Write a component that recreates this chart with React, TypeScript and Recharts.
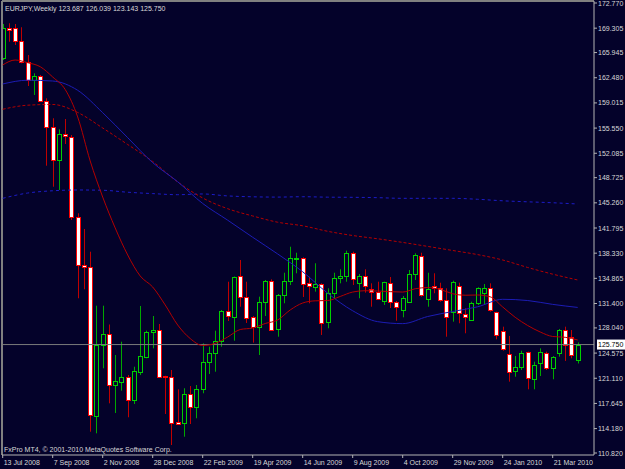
import React from 'react';
import { ComposedChart, Bar, Line, XAxis, YAxis, ReferenceLine } from 'recharts';

const dateLabels = ['13 Jul 2008', '7 Sep 2008', '2 Nov 2008', '28 Dec 2008', '22 Feb 2009', '19 Apr 2009', '14 Jun 2009', '9 Aug 2009', '4 Oct 2009', '29 Nov 2009', '24 Jan 2010', '21 Mar 2010'];
const dateTickIdx = [0, 8, 16, 24, 32, 40, 48, 56, 64, 72, 80, 88];

const priceTicks = [172.77, 169.305, 165.945, 162.48, 159.015, 155.55, 152.085, 148.725, 145.26, 141.795, 138.33, 134.865, 131.4, 128.04, 124.575, 121.11, 117.645, 114.18, 110.82];

const opens = [165.20, 169.33, 169.29, 167.58, 164.69, 162.17, 162.72, 159.32, 155.74, 151.16, 154.69, 154.36, 143.35, 136.66, 136.38, 115.95, 125.69, 127.20, 120.18, 120.64, 121.32, 118.12, 122.01, 124.08, 127.52, 127.75, 121.42, 121.24, 115.05, 114.91, 118.94, 117.19, 119.59, 123.39, 124.63, 126.24, 130.37, 129.58, 135.19, 132.25, 129.58, 128.12, 131.57, 134.50, 127.85, 132.57, 134.50, 137.49, 137.62, 134.18, 133.71, 134.09, 128.81, 132.81, 134.87, 135.19, 138.39, 134.26, 135.19, 133.36, 132.98, 131.79, 134.18, 131.65, 130.51, 131.65, 135.46, 137.98, 131.98, 133.85, 133.49, 131.88, 130.19, 133.81, 129.96, 129.13, 131.43, 132.89, 133.49, 130.19, 127.62, 124.45, 122.15, 122.62, 124.68, 120.97, 123.17, 124.63, 122.48, 124.55, 127.75, 126.83, 123.687];
const highs = [169.88, 169.98, 169.88, 169.43, 165.61, 163.09, 162.86, 159.65, 156.90, 155.38, 156.80, 154.60, 143.82, 141.66, 138.53, 131.10, 131.10, 128.51, 124.31, 126.14, 121.56, 122.70, 131.06, 127.66, 129.68, 128.58, 121.45, 122.25, 119.59, 119.73, 120.04, 120.18, 125.92, 125.45, 127.66, 130.51, 134.40, 135.12, 137.39, 134.40, 129.68, 132.34, 134.64, 134.73, 132.71, 135.64, 139.22, 138.39, 137.76, 135.09, 136.94, 134.18, 133.49, 135.64, 136.11, 138.67, 138.53, 135.46, 136.11, 134.18, 134.40, 134.40, 135.05, 131.75, 132.43, 136.01, 138.31, 138.39, 135.64, 135.56, 134.26, 133.49, 134.54, 134.26, 130.74, 131.65, 133.63, 134.09, 134.18, 130.27, 128.21, 126.93, 124.17, 124.90, 124.77, 123.39, 125.23, 124.77, 124.17, 127.89, 128.21, 127.75, 126.039];
const lows = [164.92, 167.44, 166.99, 164.47, 161.34, 160.11, 159.18, 150.37, 147.48, 147.03, 153.36, 142.90, 132.12, 133.36, 113.75, 113.53, 122.48, 117.66, 116.33, 119.40, 115.74, 117.57, 121.56, 123.86, 125.23, 121.28, 116.19, 111.92, 114.68, 113.06, 114.81, 115.60, 119.04, 121.70, 122.01, 125.45, 128.99, 126.28, 130.96, 128.72, 126.01, 124.31, 129.68, 127.68, 126.83, 131.43, 133.95, 135.56, 132.30, 131.43, 133.03, 127.07, 127.99, 132.12, 134.18, 134.40, 133.95, 132.12, 132.89, 130.96, 131.88, 131.20, 130.78, 129.03, 129.50, 131.61, 134.64, 132.34, 130.96, 132.81, 131.65, 126.83, 128.90, 128.68, 127.30, 129.03, 131.20, 131.20, 130.27, 126.47, 124.90, 120.64, 121.32, 122.25, 119.59, 119.59, 121.42, 122.25, 120.97, 124.08, 123.49, 123.86, 123.143];
const closes = [169.33, 169.12, 167.58, 164.69, 162.17, 162.72, 159.32, 155.74, 151.16, 154.69, 154.42, 143.35, 136.70, 136.38, 116.05, 125.69, 127.20, 120.18, 120.73, 121.32, 118.12, 122.15, 124.17, 127.52, 127.75, 121.32, 121.24, 114.91, 114.85, 118.94, 117.19, 119.59, 123.39, 124.63, 126.28, 130.37, 129.68, 135.09, 132.25, 129.45, 128.12, 131.65, 134.54, 127.75, 132.57, 134.54, 137.62, 137.62, 134.09, 133.81, 134.09, 128.76, 132.81, 134.87, 135.19, 138.39, 134.73, 135.19, 133.81, 132.98, 132.06, 134.32, 131.65, 130.88, 132.12, 135.42, 138.08, 132.57, 133.36, 133.49, 131.88, 129.58, 134.40, 130.14, 129.58, 131.51, 133.49, 133.49, 130.51, 127.07, 125.10, 122.01, 122.62, 124.55, 121.19, 122.94, 124.68, 122.48, 123.99, 127.75, 125.69, 124.31, 125.750];

// moving averages (red solid every 2 bars, the others every 4 bars)
const maRedSolid = [164.24, 164.92, 164.55, 164.00, 162.58, 160.86, 157.08, 151.02, 146.06, 141.80, 138.08, 135.19, 133.67, 131.20, 128.44, 126.58, 125.62, 125.92, 126.79, 127.82, 128.03, 128.65, 129.13, 130.51, 131.47, 131.77, 131.81, 132.37, 132.98, 133.16, 133.12, 133.03, 132.98, 133.43, 133.60, 133.34, 132.74, 132.54, 132.57, 132.32, 130.92, 129.50, 128.37, 127.48, 126.86, 126.75, 126.38];
const maBlueSolid = [161.62, 162.14, 162.03, 160.75, 157.67, 154.23, 150.79, 148.16, 145.17, 142.87, 140.52, 138.22, 135.77, 132.82, 130.40, 128.90, 128.63, 129.61, 130.30, 130.95, 131.98, 131.81, 131.28, 130.86];
const maRedDash = [158.14, 158.70, 158.80, 157.70, 155.56, 153.29, 150.95, 148.13, 145.93, 144.45, 143.45, 142.59, 142.10, 141.34, 140.76, 140.31, 139.81, 139.26, 138.70, 138.13, 137.39, 136.36, 135.44, 134.64];
const maBlueDash = [145.88, 146.61, 146.92, 147.03, 146.99, 146.72, 146.53, 146.38, 146.48, 146.21, 146.09, 146.05, 146.10, 146.04, 146.02, 145.97, 145.88, 145.88, 145.88, 145.75, 145.54, 145.40, 145.27, 145.10];

const title = 'EURJPY,Weekly  123.687 126.039 123.143 125.750';
const copyright = 'FxPro MT4, \u00A9 2001-2010 MetaQuotes Software Corp.';
const lastPrice = 125.75;

const BG = '#04022a';
const TXT = '#d8d8d8';
const AXIS = '#b4b4b4';
const FONT = '"Liberation Sans", Arial, sans-serif';

const rows = opens.map((o, i) => ({
  i,
  o,
  h: highs[i],
  l: lows[i],
  c: closes[i],
  m1: i % 2 === 0 ? maRedSolid[i / 2] : null,
  m2: i % 4 === 0 ? maBlueSolid[i / 4] : null,
  m3: i % 4 === 0 ? maRedDash[i / 4] : null,
  m4: i % 4 === 0 ? maBlueDash[i / 4] : null,
}));

const Candle = (props: any) => {
  const { x, y, width, height, payload } = props;
  if (!payload) return null;
  const { o, h, l, c } = payload;
  const top = Math.min(y, y + height);
  const hgt = Math.abs(height);
  const k = h - l > 0 ? hgt / (h - l) : 0;
  const cx = Math.floor(x + width / 2) + 0.5;
  const bodyTop = top + (h - Math.max(o, c)) * k;
  const bodyBot = top + (h - Math.min(o, c)) * k;
  const bull = c >= o;
  const wick = bull ? '#00a800' : '#c00000';
  const edge = bull ? '#00d000' : '#ff0000';
  const fill = bull ? BG : '#ffffff';
  const by = Math.round(bodyTop) + 0.5;
  const bh = Math.max(Math.round(bodyBot) - Math.round(bodyTop), 1);
  return (
    <g>
      <line x1={cx} x2={cx} y1={top} y2={top + hgt} stroke={wick} strokeWidth={1} />
      <rect x={cx - 2} y={by} width={4} height={bh} fill={fill} stroke={edge} strokeWidth={1} />
    </g>
  );
};

const XTick = (props: any) => {
  const { x, y, payload } = props;
  const idx = dateTickIdx.indexOf(payload.value);
  return (
    <text x={x + 1} y={y + 5} fill={TXT} fontSize={7} fontFamily={FONT} textAnchor="start">
      {idx >= 0 ? dateLabels[idx] : ''}
    </text>
  );
};

const YTick = (props: any) => {
  const { x, y, payload } = props;
  return (
    <text x={x - 1} y={y + 2.5} fill={TXT} fontSize={7} fontFamily={FONT} textAnchor="start">
      {Number(payload.value).toFixed(3)}
    </text>
  );
};

const PriceBox = (props: any) => {
  const vb = props.viewBox || {};
  const bx = (vb.x || 0) + (vb.width || 0) + 3;
  const by = vb.y || 0;
  return (
    <g>
      <rect x={bx} y={by - 5} width={28} height={10} fill="#ffffff" />
      <text x={bx + 1} y={by + 2.5} fill="#000000" fontSize={7} fontFamily={FONT}>
        {lastPrice.toFixed(3)}
      </text>
    </g>
  );
};

export default function App() {
  return (
    <div style={{ position: 'absolute', left: 0, top: 0, width: 625, height: 469, background: BG, overflow: 'hidden' }}>
      <ComposedChart
        width={625}
        height={469}
        data={rows}
        margin={{ top: 1, right: 0, bottom: 0, left: 2 }}
        style={{ background: BG }}
      >
        <XAxis
          dataKey="i"
          type="number"
          domain={[-0.112, 94.608]}
          allowDataOverflow
          ticks={dateTickIdx}
          interval={0}
          tick={<XTick />}
          tickSize={3}
          height={14}
          axisLine={{ stroke: AXIS }}
          tickLine={{ stroke: AXIS }}
        />
        <YAxis
          orientation="right"
          type="number"
          domain={[110.545, 173.045]}
          allowDataOverflow
          ticks={priceTicks}
          interval={0}
          tick={<YTick />}
          tickSize={3}
          width={31}
          axisLine={{ stroke: AXIS }}
          tickLine={{ stroke: AXIS }}
        />
        <ReferenceLine y={lastPrice} stroke="#7a7a7a" strokeWidth={1} label={<PriceBox />} />
        <ReferenceLine x={-0.112} stroke="#808080" strokeWidth={2} />
        <ReferenceLine y={173.045} stroke="#808080" strokeWidth={2} />
        <Bar dataKey={(d: any) => [d.l, d.h]} shape={<Candle />} barSize={5} isAnimationActive={false} />
        <Line dataKey="m4" type="monotone" connectNulls dot={false} stroke="#1c1cc8" strokeWidth={1} strokeDasharray="3 3" isAnimationActive={false} />
        <Line dataKey="m3" type="monotone" connectNulls dot={false} stroke="#b40000" strokeWidth={1} strokeDasharray="3 2" isAnimationActive={false} />
        <Line dataKey="m2" type="monotone" connectNulls dot={false} stroke="#1c1cb4" strokeWidth={1} isAnimationActive={false} />
        <Line dataKey="m1" type="monotone" connectNulls dot={false} stroke="#b40000" strokeWidth={1} isAnimationActive={false} />
      </ComposedChart>
      <svg width={625} height={469} style={{ position: 'absolute', left: 0, top: 0, pointerEvents: 'none' }}>
        <text x={5} y={10.5} fill={TXT} fontSize={7} fontFamily={FONT}>{title}</text>
        <text x={4} y={451.5} fill={TXT} fontSize={7} fontFamily={FONT}>{copyright}</text>
      </svg>
    </div>
  );
}
